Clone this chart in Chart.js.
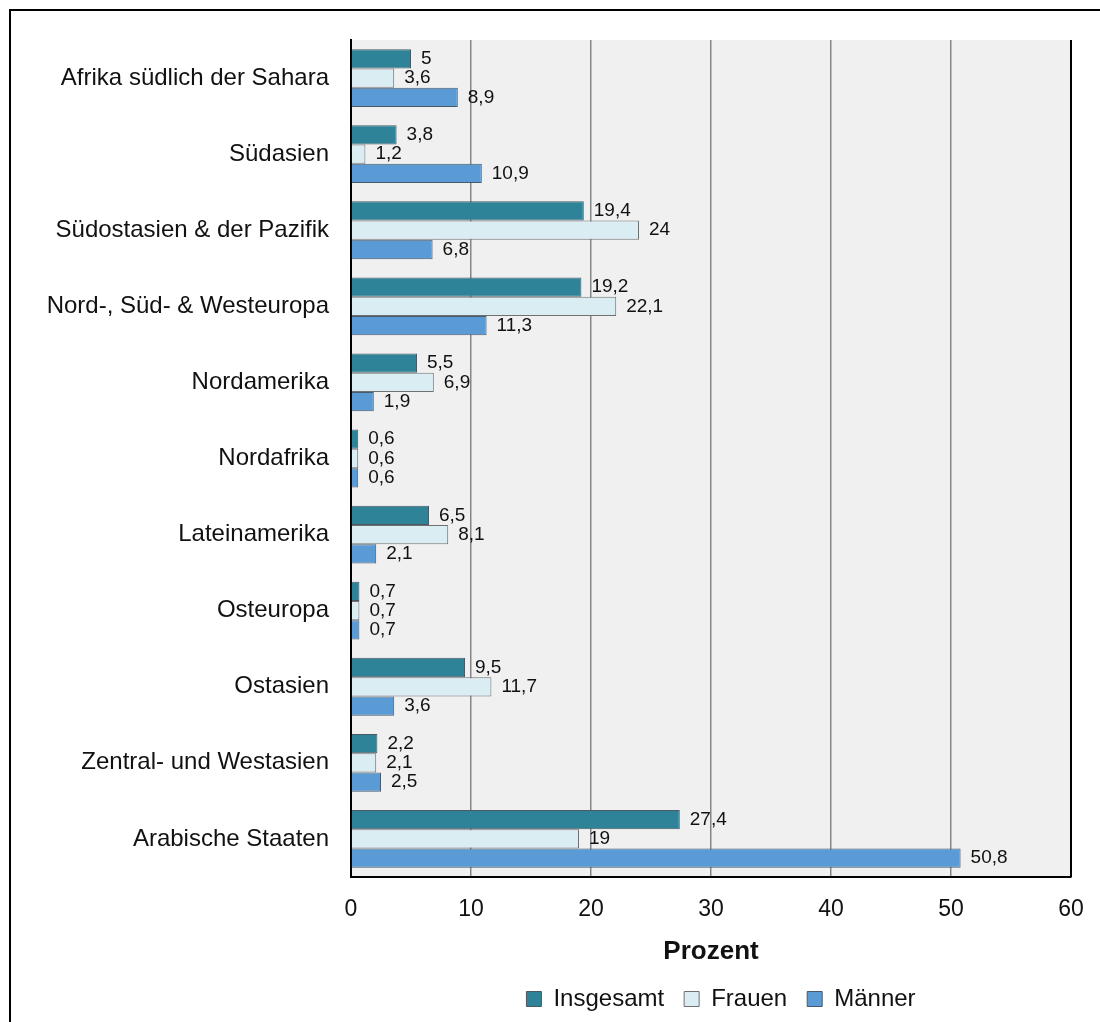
<!DOCTYPE html>
<html>
<head>
<meta charset="utf-8">
<script src="https://cdn.jsdelivr.net/npm/chart.js@4/dist/chart.umd.min.js"></script>
<style>
  html, body { margin: 0; padding: 0; background: #fff; }
  #wrap { position: relative; width: 1100px; height: 1022px; overflow: hidden; }
  #frame { position: absolute; left: 9px; top: 9px; width: 1200px; height: 1100px;
           border-left: 2px solid #000; border-top: 2px solid #000; }
  #myChart { position: absolute; left: 0; top: 0; }
</style>
</head>
<body>
<div id="wrap">
  <div id="frame"></div>
  <canvas id="myChart" width="1100" height="1022"></canvas>
</div>
<script>
'use strict';

var regions = ['Afrika südlich der Sahara', 'Südasien', 'Südostasien & der Pazifik',
    'Nord-, Süd- & Westeuropa', 'Nordamerika', 'Nordafrika', 'Lateinamerika',
    'Osteuropa', 'Ostasien', 'Zentral- und Westasien', 'Arabische Staaten'];
var insgesamt = [5, 3.8, 19.4, 19.2, 5.5, 0.6, 6.5, 0.7, 9.5, 2.2, 27.4];
var frauen = [3.6, 1.2, 24, 22.1, 6.9, 0.6, 8.1, 0.7, 11.7, 2.1, 19];
var maenner = [8.9, 10.9, 6.8, 11.3, 1.9, 0.6, 2.1, 0.7, 3.6, 2.5, 50.8];
var xTicks = [0, 10, 20, 30, 40, 50, 60];

var fontFamily = '"Liberation Sans", Arial, sans-serif';

// grey plot background plus the right-hand border
var plotArea = {
    id: 'plotArea',
    beforeDraw: function (chart) {
        var a = chart.chartArea, ctx = chart.ctx;
        ctx.save();
        ctx.fillStyle = '#f0f0f0';
        ctx.fillRect(a.left, a.top, a.right - a.left, a.bottom - a.top);
        ctx.restore();
    },
    afterDraw: function (chart) {
        var a = chart.chartArea, ctx = chart.ctx;
        ctx.save();
        ctx.strokeStyle = '#000';
        ctx.lineWidth = 2;
        ctx.beginPath();
        ctx.moveTo(a.right, a.top);
        ctx.lineTo(a.right, a.bottom);
        ctx.stroke();
        ctx.restore();
    }
};

// centre the legend under the plot instead of the whole canvas
var legendUnderPlot = {
    id: 'legendUnderPlot',
    afterLayout: function (chart) {
        if (chart.legend) {
            chart.legend.left = chart.chartArea.left + 10;
            chart.legend.right = chart.chartArea.right + 10;
        }
    }
};

// value labels at the end of each bar, German decimal comma
var barLabels = {
    id: 'barLabels',
    afterDatasetsDraw: function (chart) {
        var ctx = chart.ctx;
        ctx.save();
        ctx.font = '19px ' + fontFamily;
        ctx.fillStyle = '#111';
        ctx.textAlign = 'left';
        ctx.textBaseline = 'middle';
        chart.data.datasets.forEach(function (ds, i) {
            chart.getDatasetMeta(i).data.forEach(function (bar, j) {
                var txt = String(ds.data[j]).replace('.', ',');
                ctx.fillText(txt, bar.x + 10, bar.y);
            });
        });
        ctx.restore();
    }
};

var ctx = document.getElementById('myChart');
var myChart = new Chart(ctx, {
    type: 'bar',
    data: {
        labels: regions,
        datasets: [{
                label: 'Insgesamt',
                data: insgesamt,
                backgroundColor: '#2e8399',
                borderColor: '#4a5a60',
                borderWidth: 1
            }, {
                label: 'Frauen',
                data: frauen,
                backgroundColor: '#daedf3',
                borderColor: '#707070',
                borderWidth: 1
            }, {
                label: 'Männer',
                data: maenner,
                backgroundColor: '#5b9bd5',
                borderColor: '#4a5a6a',
                borderWidth: 1
            }
        ]
    },
    plugins: [plotArea, legendUnderPlot, barLabels],
    options: {
        indexAxis: 'y',
        responsive: false,
        animation: false,
        devicePixelRatio: 1,
        datasets: {
            bar: {categoryPercentage: 0.76, barPercentage: 1}
        },
        layout: {padding: {top: 40, right: 29, bottom: 1, left: 0}},
        scales: {
            x: {
                min: 0,
                max: 60,
                afterBuildTicks: function (scale) {
                    scale.ticks = xTicks.map(function (v) { return {value: v}; });
                },
                afterFit: function (scale) {
                    scale.height = 90;
                    scale.paddingLeft = 0;
                    scale.paddingRight = 0;
                },
                grid: {
                    color: function (c) {
                        return (c.tick.value === 0 || c.tick.value === 60) ? 'rgba(0,0,0,0)' : '#858585';
                    },
                    lineWidth: 1.5,
                    drawTicks: false
                },
                border: {display: true, color: '#000', width: 2},
                ticks: {
                    color: '#111',
                    font: {family: fontFamily, size: 23},
                    padding: 19
                },
                title: {
                    display: true,
                    text: 'Prozent',
                    color: '#111',
                    font: {family: fontFamily, size: 26, weight: 'bold'},
                    padding: {top: 4, bottom: 0}
                }
            },
            y: {
                afterFit: function (scale) { scale.width = 351; },
                grid: {display: false, drawTicks: false},
                border: {display: true, color: '#000', width: 2},
                ticks: {
                    color: '#111',
                    font: {family: fontFamily, size: 24},
                    padding: 22
                }
            }
        },
        plugins: {
            legend: {
                position: 'bottom',
                labels: {
                    color: '#111',
                    font: {family: fontFamily, size: 24},
                    boxWidth: 15,
                    boxHeight: 15,
                    padding: 20
                }
            },
            tooltip: {enabled: false}
        }
    }
});
</script>
</body>
</html>
